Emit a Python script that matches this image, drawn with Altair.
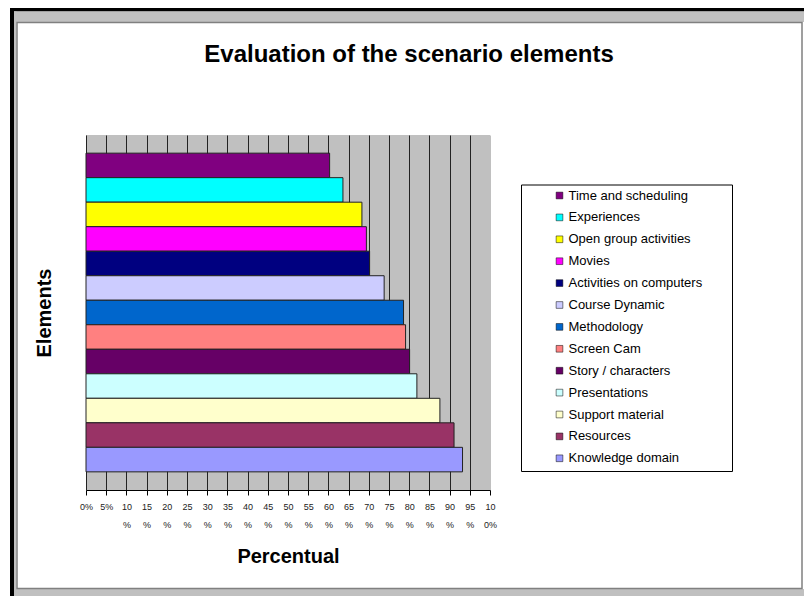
import altair as alt
import pandas as pd

categories = [
    "Time and scheduling", "Experiences", "Open group activities", "Movies",
    "Activities on computers", "Course Dynamic", "Methodology", "Screen Cam",
    "Story / characters", "Presentations", "Support material", "Resources",
    "Knowledge domain",
]
values = [60.3, 63.6, 68.3, 69.4, 70.2, 73.8, 78.6, 79.1, 80.1, 81.9, 87.6, 91.1, 93.2]
colors = [
    "#800080", "#00FFFF", "#FFFF00", "#FF00FF", "#000080", "#CCCCFF", "#0066CC",
    "#FF8080", "#660066", "#CCFFFF", "#FFFFCC", "#993366", "#9999FF",
]
tick_values = [0, 5, 10, 15, 20, 25, 30, 35, 40, 45, 50, 55, 60, 65, 70, 75, 80, 85, 90, 95, 100]

df = pd.DataFrame({"element": categories, "value": values})
one = pd.DataFrame({"k": [0]})
FONT = "Liberation Sans"

W, H = 404, 355
PL, PT = 86, 135


def strip(x1, x2, y1, y2, fill):
    return alt.Chart(one).mark_rect(fill=fill, stroke=None).encode(
        x=alt.value(x1 - PL), x2=alt.value(x2 - PL),
        y=alt.value(y1 - PT), y2=alt.value(y2 - PT))


frame = [
    strip(10, 804, 8, 11.5, "#000000"),
    strip(10, 14, 8, 596, "#000000"),
    strip(14, 804, 11.5, 22, "#C0C0C0"),
    strip(14, 16.5, 11.5, 596, "#C0C0C0"),
    strip(14, 804, 589, 596, "#C0C0C0"),
    alt.Chart(one).mark_rect(fill=None, stroke="#808080", strokeWidth=1.5).encode(
        x=alt.value(17 - PL), x2=alt.value(802 - PL),
        y=alt.value(22.5 - PT), y2=alt.value(588.5 - PT)),
]

legend_box = alt.Chart(one).mark_rect(fill="white", stroke="black", strokeWidth=1).encode(
    x=alt.value(521.5 - PL), x2=alt.value(732.5 - PL),
    y=alt.value(185 - PT), y2=alt.value(471.5 - PT))

label_expr = ("datum.value < 10 ? datum.value + '%' : "
              "[substring(datum.value + '%', 0, 2), substring(datum.value + '%', 2)]")

bars = alt.Chart(df).mark_bar(stroke="#222222", strokeWidth=1).encode(
    x=alt.X("value:Q",
            scale=alt.Scale(domain=[0, 100], nice=False, zero=True),
            axis=alt.Axis(values=tick_values, labelExpr=label_expr,
                          labelFont=FONT, labelFontSize=9, labelColor="#222222",
                          labelLineHeight=18.5, labelPadding=7, labelOverlap=False,
                          labelFlush=False, tickSize=5, tickColor="black",
                          domainColor="black", grid=True,
                          gridColor={"condition": {"test": "datum.value === 100", "value": "#C0C0C0"},
                                     "value": "#222222"},
                          gridWidth=1,
                          title="Percentual", titleFont=FONT, titleFontSize=20,
                          titleFontWeight="bold", titleColor="black", titlePadding=17)),
    y=alt.Y("element:N", sort=categories,
            scale=alt.Scale(paddingInner=0, paddingOuter=0.74),
            axis=alt.Axis(labels=False, ticks=False, domain=False, grid=False,
                          title="Elements", titleFont=FONT, titleFontSize=20,
                          titleFontWeight="bold", titleColor="black", titlePadding=32)),
    color=alt.Color("element:N",
                    scale=alt.Scale(domain=categories, range=colors),
                    legend=alt.Legend(orient="none", legendX=553 - PL, legendY=189 - PT,
                                      title=None, padding=0, symbolType="square",
                                      symbolSize=45, symbolStrokeColor="black",
                                      symbolStrokeWidth=0.5, labelFont=FONT,
                                      labelFontSize=13, labelColor="black",
                                      labelOffset=2.5, rowPadding=7.9, labelLimit=300)),
)

chart = alt.layer(*frame, bars, legend_box).properties(
    width=W, height=H,
    padding={"left": PL, "top": PT, "right": 804 - PL - W, "bottom": 596 - PT - H},
    autosize=alt.AutoSizeParams(type="none"),
    background="white",
    title=alt.TitleParams("Evaluation of the scenario elements", font=FONT,
                          fontSize=24, fontWeight="bold", color="black",
                          anchor="middle", baseline="alphabetic", offset=-78, dx=121),
).configure_view(fill="#C0C0C0", stroke=None)

chart.save("out.html", embed_options={"renderer": "svg", "actions": False})
